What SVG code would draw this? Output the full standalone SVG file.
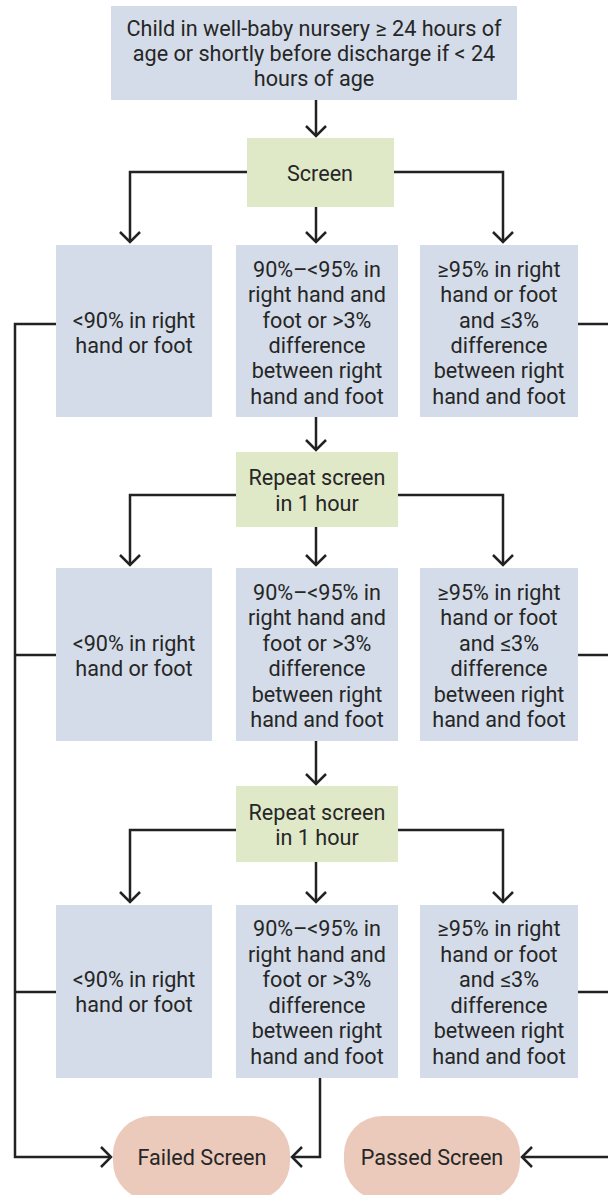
<svg xmlns="http://www.w3.org/2000/svg" width="608" height="1195" viewBox="0 0 608 1195">
<style>
.b{fill:#d3dce8}
.g{fill:#dfe9c8}
.p{fill:#ebcabb}
text{font-family:Roboto,"Liberation Sans",sans-serif;font-size:21.6px;fill:#262626;text-anchor:middle;dominant-baseline:central}
.c path{fill:none;stroke:#222;stroke-width:2.5}
</style>
<defs>
<marker id="a" markerUnits="userSpaceOnUse" orient="auto" markerWidth="24" markerHeight="24" refX="0" refY="0" viewBox="-14 -12 16 24" overflow="visible">
<path d="M-10,-10 L0,0 L-10,10" fill="none" stroke="#222" stroke-width="2.5"/>
</marker>
</defs>
<rect width="608" height="1195" fill="#fff"/>
<g class="c">
<path d="M316,100 V136" marker-end="url(#a)"/>
<path d="M247,172 H130 V242" marker-end="url(#a)"/>
<path d="M316,207 V242" marker-end="url(#a)"/>
<path d="M394,172 H503 V242" marker-end="url(#a)"/>
<path d="M316,417 V450" marker-end="url(#a)"/>
<path d="M236,495 H130 V565" marker-end="url(#a)"/>
<path d="M316,527 V565" marker-end="url(#a)"/>
<path d="M398,495 H503 V565" marker-end="url(#a)"/>
<path d="M316,741 V784" marker-end="url(#a)"/>
<path d="M236,830 H130 V902" marker-end="url(#a)"/>
<path d="M316,862 V902" marker-end="url(#a)"/>
<path d="M398,830 H503 V902" marker-end="url(#a)"/>
<path d="M56,324 H15 V1157 H111" marker-end="url(#a)"/>
<path d="M56,655 H15"/>
<path d="M56,992 H15"/>
<path d="M320,1078 V1157 H292" marker-end="url(#a)"/>
<path d="M578,324 H610"/>
<path d="M578,655 H610"/>
<path d="M578,992 H610"/>
<path d="M610,1157 H522" marker-end="url(#a)"/>
</g>
<g id="start"><rect class="b" x="111" y="6" width="406" height="94"/>
<text x="314" y="28">Child in well-baby nursery ≥ 24 hours of</text>
<text x="314" y="53">age or shortly before discharge if &lt; 24</text>
<text x="314" y="78">hours of age</text></g>
<g id="screen"><rect class="g" x="247" y="138" width="147" height="69"/>
<text x="320" y="173">Screen</text></g>

<g id="r1l"><rect class="b" x="56" y="245" width="156" height="172"/>
<text x="134" y="320">&lt;90% in right</text><text x="134" y="345">hand or foot</text></g>
<g id="r1m"><rect class="b" x="236" y="245" width="162" height="172"/>
<text x="317" y="269">90%–&lt;95% in</text><text x="317" y="294">right hand and</text><text x="317" y="320">foot or &gt;3%</text><text x="317" y="345">difference</text><text x="317" y="370">between right</text><text x="317" y="396">hand and foot</text></g>
<g id="r1r"><rect class="b" x="420" y="245" width="158" height="172"/>
<text x="499" y="269">≥95% in right</text><text x="499" y="294">hand or foot</text><text x="499" y="320">and ≤3%</text><text x="499" y="345">difference</text><text x="499" y="370">between right</text><text x="499" y="396">hand and foot</text></g>

<g id="repeat1"><rect class="g" x="236" y="452" width="162" height="75"/>
<text x="317" y="477">Repeat screen</text><text x="317" y="503">in 1 hour</text></g>

<g id="r2l"><rect class="b" x="56" y="568" width="156" height="173"/>
<text x="134" y="643">&lt;90% in right</text><text x="134" y="668">hand or foot</text></g>
<g id="r2m"><rect class="b" x="236" y="568" width="162" height="173"/>
<text x="317" y="592">90%–&lt;95% in</text><text x="317" y="617">right hand and</text><text x="317" y="643">foot or &gt;3%</text><text x="317" y="668">difference</text><text x="317" y="694">between right</text><text x="317" y="719">hand and foot</text></g>
<g id="r2r"><rect class="b" x="420" y="568" width="158" height="173"/>
<text x="499" y="592">≥95% in right</text><text x="499" y="617">hand or foot</text><text x="499" y="643">and ≤3%</text><text x="499" y="668">difference</text><text x="499" y="694">between right</text><text x="499" y="719">hand and foot</text></g>

<g id="repeat2"><rect class="g" x="236" y="786" width="162" height="76"/>
<text x="317" y="812">Repeat screen</text><text x="317" y="837">in 1 hour</text></g>

<g id="r3l"><rect class="b" x="56" y="905" width="156" height="173"/>
<text x="134" y="979">&lt;90% in right</text><text x="134" y="1004">hand or foot</text></g>
<g id="r3m"><rect class="b" x="236" y="905" width="162" height="173"/>
<text x="317" y="928">90%–&lt;95% in</text><text x="317" y="954">right hand and</text><text x="317" y="979">foot or &gt;3%</text><text x="317" y="1005">difference</text><text x="317" y="1030">between right</text><text x="317" y="1056">hand and foot</text></g>
<g id="r3r"><rect class="b" x="420" y="905" width="158" height="173"/>
<text x="499" y="928">≥95% in right</text><text x="499" y="954">hand or foot</text><text x="499" y="979">and ≤3%</text><text x="499" y="1005">difference</text><text x="499" y="1030">between right</text><text x="499" y="1056">hand and foot</text></g>

<g id="failed"><rect class="p" x="113" y="1116" width="177" height="84" rx="38"/>
<text x="202" y="1157">Failed Screen</text></g>
<g id="passed"><rect class="p" x="344" y="1116" width="176" height="84" rx="38"/>
<text x="432" y="1157">Passed Screen</text></g>
</svg>
